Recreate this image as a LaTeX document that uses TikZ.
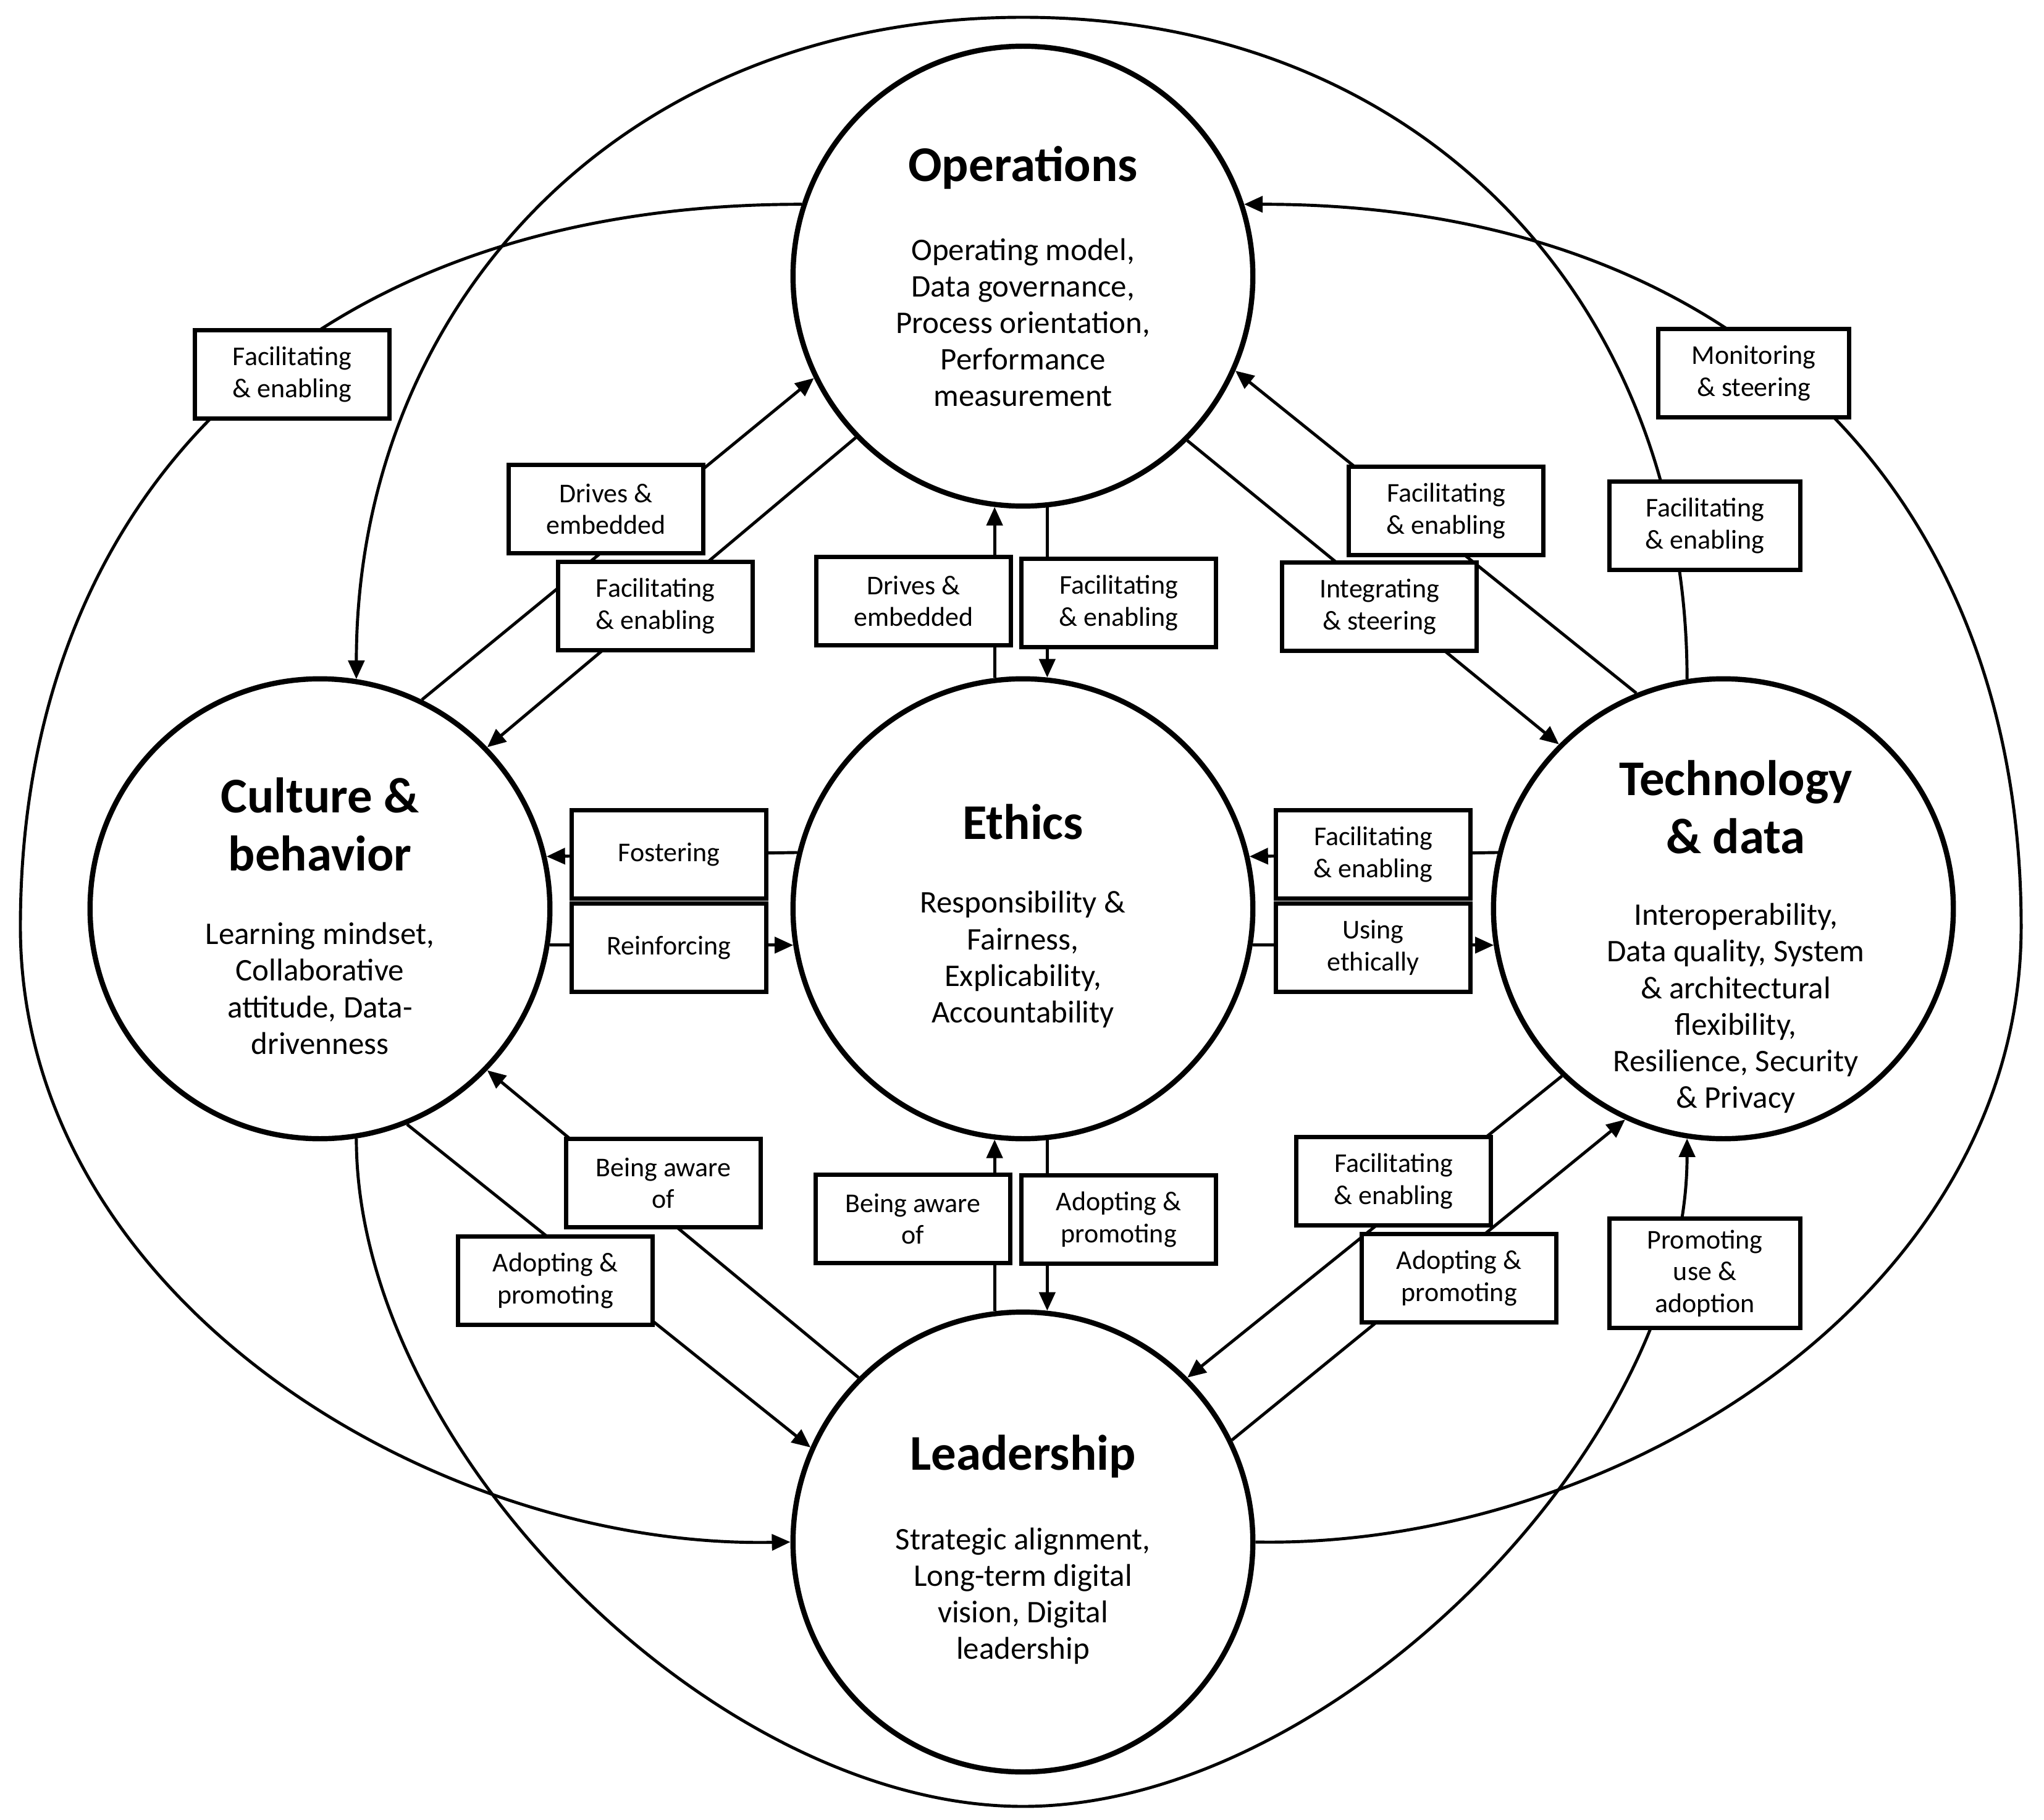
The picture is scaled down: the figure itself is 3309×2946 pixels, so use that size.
\documentclass[tikz,border=0pt]{standalone}
\usepackage{fontspec}
\setmainfont{Carlito}
\usetikzlibrary{arrows.meta,calc}
\begin{document}
\begin{tikzpicture}[x=0.01cm,y=-0.01cm,
  circ/.style={draw,line width=2.4pt,circle,minimum size=7.44cm,inner sep=0pt},
  lbl/.style={draw,line width=2pt,fill=white,minimum width=3.15cm,minimum height=1.42cm,inner sep=2pt,align=center,font=\fontsize{12.5}{14.6}\selectfont},
  ttl/.style={align=center,font=\fontsize{23}{26.7}\selectfont\bfseries},
  body/.style={align=center,font=\fontsize{14.5}{16.8}\selectfont},
  con/.style={line width=1.4pt},
  arr/.style={con,-{Triangle[length=0.3cm,width=0.26cm]}}]
\useasboundingbox (0,0) rectangle (3309,2946);
% circles
\node[circ] (ops) at (1656,447) {};
\node[circ] (eth) at (1656,1471) {};
\node[circ] (lead) at (1656,2496) {};
\node[circ] (cul) at (518,1471) {};
\node[circ] (tech) at (2790,1471) {};
% texts
\node[ttl] (opsT) at (1656,271) {Operations};
\node[body] (opsB) at (1656,522) {Operating model,\\Data governance,\\Process orientation,\\Performance\\measurement};
\node[ttl] (ethT) at (1656,1330) {Ethics};
\node[body] (ethB) at (1656,1553) {Responsibility \&\\Fairness,\\Explicability,\\Accountability};
\node[ttl] (culT) at (518,1334) {Culture \&\\behavior};
\node[body] (culB) at (518,1600) {Learning mindset,\\Collaborative\\attitude, Data-\\drivenness};
\node[ttl] (techT) at (2810,1306) {Technology\\\& data};
\node[body] (techB) at (2810,1632) {Interoperability,\\Data quality, System\\\& architectural\\flexibility,\\Resilience, Security\\\& Privacy};
\node[ttl] (leadT) at (1656,2357) {Leadership};
\node[body] (leadB) at (1656,2583) {Strategic alignment,\\Long-term digital\\vision, Digital\\leadership};
% coordinates for big arcs
\coordinate (topc) at (1656,28);
\coordinate (botc) at (1656,2924);
\coordinate (leftc) at (33,1500);
\coordinate (rightc) at (3272,1500);
% big arcs
\draw[arr] (ops.162) .. controls (500,330) and (33,800) .. (leftc) .. controls (33,2100) and (700,2507) .. (lead.180);
\draw[arr] (lead.0) .. controls (2612,2507) and (3272,2100) .. (rightc) .. controls (3272,800) and (2812,330) .. (ops.18);
\draw[arr] (tech.99) .. controls +(0,-600) and +(656,0) .. (topc) .. controls +(-656,0) and +(0,-600) .. (cul.81);
\draw[arr] (cul.-81) .. controls +(0,500) and +(-500,0) .. (botc) .. controls +(500,0) and +(0,500) .. (tech.-99);
% horizontal
\draw[arr] (eth.166.3) -- (cul.13.7);
\draw[arr] (cul.-9.3) -- (eth.189.3);
\draw[arr] (tech.166.3) -- (eth.13.7);
\draw[arr] (eth.-9.3) -- (tech.189.3);
% vertical
\draw[arr] (eth.97.9) -- (ops.-97.9);
\draw[arr] (ops.-84) -- (eth.84);
\draw[arr] (lead.97.9) -- (eth.-97.9);
\draw[arr] (eth.-84) -- (lead.84);
% diagonals
\draw[arr] (cul.64.3) -- (ops.206);
\draw[arr] (ops.224.6) -- (cul.44.9);
\draw[arr] (tech.112) -- (ops.-24.3);
\draw[arr] (ops.-45.2) -- (tech.135.5);
\draw[arr] (lead.135.2) -- (cul.-44.8);
\draw[arr] (cul.-68.6) -- (lead.156.9);
\draw[arr] (tech.-134.7) -- (lead.45.2);
\draw[arr] (lead.26) -- (tech.-115.7);
% label boxes
\node[lbl] (b1) at (473,606) {Facilitating\\\& enabling};
\node[lbl] (b2) at (981,824) {Drives \&\\embedded};
\node[lbl] (b3) at (1061,981) {Facilitating\\\& enabling};
\node[lbl] (b4) at (1479,973) {Drives \&\\embedded};
\node[lbl] (b5) at (1811,976) {Facilitating\\\& enabling};
\node[lbl] (b6) at (2233,982) {Integrating\\\& steering};
\node[lbl] (b7) at (2341,827) {Facilitating\\\& enabling};
\node[lbl,minimum width=3.09cm] (b8) at (2839,604) {Monitoring\\\& steering};
\node[lbl,minimum width=3.08cm] (b9) at (2760,851) {Facilitating\\\& enabling};
\node[lbl] (b10) at (1083,1383) {Fostering};
\node[lbl] (b11) at (1083,1534) {Reinforcing};
\node[lbl] (b12) at (2223,1383) {Facilitating\\\& enabling};
\node[lbl] (b13) at (2223,1534) {Using\\ethically};
\node[lbl] (b14) at (1074,1915) {Being aware\\of};
\node[lbl] (b15) at (899,2073) {Adopting \&\\promoting};
\node[lbl] (b16) at (1478,1973) {Being aware\\of};
\node[lbl] (b17) at (1811,1974) {Adopting \&\\promoting};
\node[lbl] (b18) at (2256,1912) {Facilitating\\\& enabling};
\node[lbl] (b19) at (2362,2069) {Adopting \&\\promoting};
\node[lbl,minimum width=3.09cm,minimum height=1.76cm] (b20) at (2760,2061) {Promoting\\use \&\\adoption};
\end{tikzpicture}
\end{document}
